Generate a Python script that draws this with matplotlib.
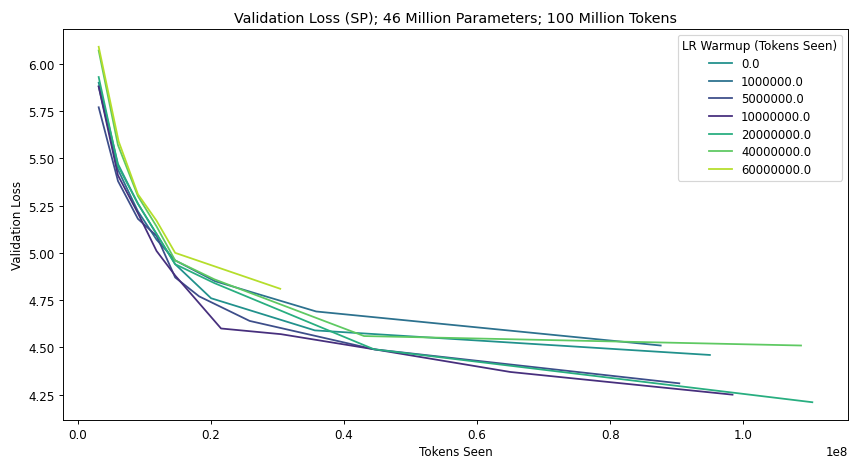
import matplotlib
matplotlib.use("Agg")
import matplotlib.pyplot as plt

# Tokens seen (millions) and validation loss for each LR warmup setting
warmups = ["0.0", "1000000.0", "5000000.0", "10000000.0", "20000000.0", "40000000.0", "60000000.0"]
colors = ["#21918c", "#2c718e", "#3d4e8a", "#472f7d", "#28ae80", "#5ec962", "#b5de2b"]

x_w0 = [3.1, 6.0, 9.0, 11.8, 14.6, 20.0, 35.6, 95.0]
y_w0 = [5.90, 5.47, 5.26, 5.10, 4.94, 4.76, 4.59, 4.46]

x_w1m = [3.1, 6.0, 9.0, 11.8, 14.6, 20.6, 35.8, 87.6]
y_w1m = [5.88, 5.44, 5.22, 5.07, 4.96, 4.85, 4.69, 4.51]

x_w5m = [3.1, 6.0, 9.0, 11.8, 14.6, 18.2, 25.8, 44.5, 90.4]
y_w5m = [5.77, 5.38, 5.18, 5.09, 4.87, 4.77, 4.64, 4.49, 4.31]

x_w10m = [3.1, 6.0, 9.0, 11.8, 14.6, 21.5, 30.5, 44.5, 65.0, 98.4]
y_w10m = [5.88, 5.41, 5.21, 5.01, 4.88, 4.60, 4.57, 4.49, 4.37, 4.25]

x_w20m = [3.1, 6.0, 9.0, 11.8, 14.6, 20.5, 44.5, 110.4]
y_w20m = [5.93, 5.46, 5.26, 5.10, 4.94, 4.84, 4.49, 4.21]

x_w40m = [3.1, 6.0, 9.0, 11.8, 14.6, 20.5, 43.0, 108.7]
y_w40m = [6.07, 5.57, 5.30, 5.14, 4.96, 4.86, 4.56, 4.51]

x_w60m = [3.1, 6.1, 9.0, 11.8, 14.6, 30.4]
y_w60m = [6.09, 5.59, 5.31, 5.17, 5.00, 4.81]

xs = [x_w0, x_w1m, x_w5m, x_w10m, x_w20m, x_w40m, x_w60m]
ys = [y_w0, y_w1m, y_w5m, y_w10m, y_w20m, y_w40m, y_w60m]

W, H = 854, 458
fig = plt.figure(figsize=(10, H / 85.4), dpi=85.4)
ax = fig.add_axes([63 / W, 1 - 421 / H, (848 - 63) / W, (421 - 30) / H])
for lab, c, x, y in zip(warmups, colors, xs, ys):
    ax.plot([v * 1e6 for v in x], y, color=c, lw=1.5, label=lab)

ax.set_title("Validation Loss (SP); 46 Million Parameters; 100 Million Tokens")
ax.set_xlabel("Tokens Seen", labelpad=3)
ax.set_ylabel("Validation Loss")
ax.legend(title="LR Warmup (Tokens Seen)", loc="upper right",
          fontsize=9.8, title_fontsize=10, labelspacing=0.4)
fig.savefig("out.png", dpi=85.4)
